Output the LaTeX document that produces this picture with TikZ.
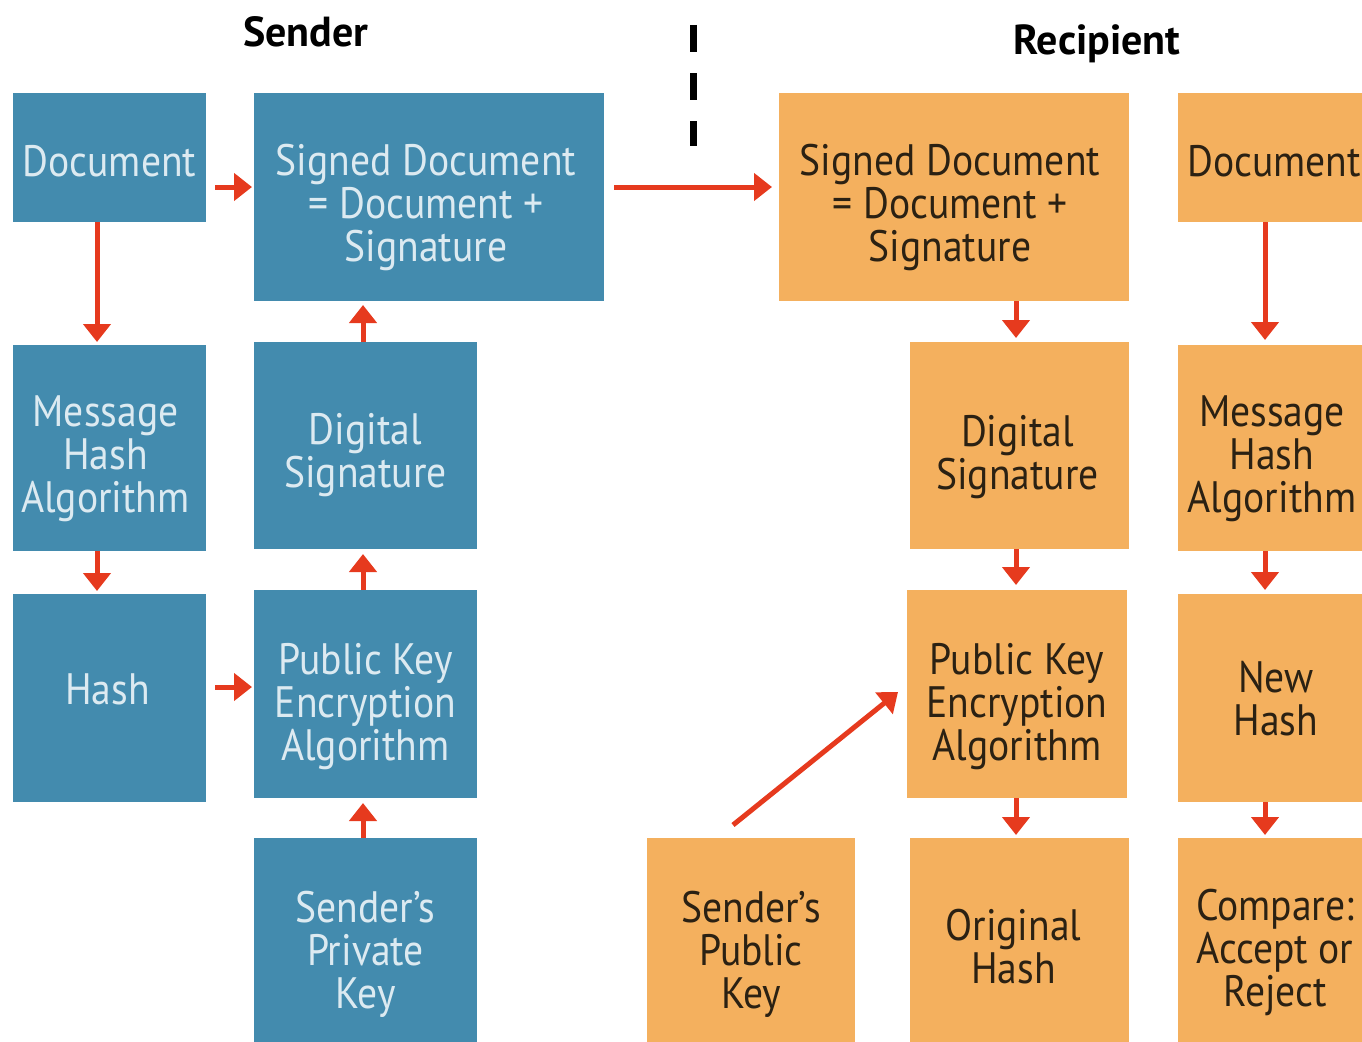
\documentclass[tikz,border=0pt]{standalone}
\usepackage{fontspec}
\setmainfont[FakeStretch=0.9]{PT Sans}
\newfontfamily\titlefont{PT Sans}
\usetikzlibrary{arrows.meta,calc}
\definecolor{boxblue}{HTML}{438BAE}
\definecolor{boxorange}{HTML}{F4B05E}
\definecolor{arrowred}{HTML}{E63A1E}
\definecolor{textblue}{HTML}{DCEAF1}
\definecolor{textorange}{HTML}{2B2113}
\begin{document}
\begin{tikzpicture}[x=1pt,y=-1pt,
  base/.style={inner sep=0pt, outer sep=0pt},
  bluebox/.style={base, fill=boxblue},
  orangebox/.style={base, fill=boxorange},
  txt/.style={inner sep=0pt, align=center, font=\fontsize{44}{43}\selectfont},
  btxt/.style={txt, text=textblue},
  otxt/.style={txt, text=textorange},
  arr/.style={draw=arrowred, line width=5pt, -{Triangle[width=27pt,length=18pt]}},
  title/.style={inner sep=0pt, anchor=base, font=\titlefont\fontsize{42}{42}\selectfont\bfseries}
]
\useasboundingbox (0,0) rectangle (1362,1041);
% titles
\node[title] (tsend) at (306,47) {Sender};
\node[title] (trec) at (1097,55) {Recipient};
% separator
\coordinate (dtop) at (693,25);
\coordinate (dbot) at (693,146);
\draw[line width=7pt, dash pattern=on 27pt off 21pt] (dtop) -- (dbot);
% sender boxes
\node[bluebox, minimum width=193pt, minimum height=129pt] (d1) at (109.5,157.5) {};
\node[bluebox, minimum width=350pt, minimum height=208pt] (sd1) at (429,197) {};
\node[bluebox, minimum width=193pt, minimum height=206pt] (mh1) at (109.5,448) {};
\node[bluebox, minimum width=223pt, minimum height=207pt] (ds1) at (365.5,445.5) {};
\node[bluebox, minimum width=193pt, minimum height=208pt] (h1) at (109.5,698) {};
\node[bluebox, minimum width=223pt, minimum height=208pt] (pk1) at (365.5,694) {};
\node[bluebox, minimum width=223pt, minimum height=222pt] (priv) at (365.5,949) {};
% sender texts
\node[btxt] (d1t) at ($(d1)+(0,4)$) {Document};
\node[btxt] (sd1t) at ($(sd1)+(-3,10)$) {Signed Document\\= Document +\\Signature};
\node[btxt] (mh1t) at ($(mh1)+(-4,11)$) {Message\\Hash\\Algorithm};
\node[btxt] (ds1t) at ($(ds1)+(0,10)$) {Digital\\Signature};
\node[btxt] (h1t) at ($(h1)+(-2,-9)$) {Hash};
\node[btxt] (pk1t) at ($(pk1)+(0,13)$) {Public Key\\Encryption\\Algorithm};
\node[btxt] (privt) at ($(priv)+(0,5)$) {Sender's\\Private\\Key};
% recipient boxes
\node[orangebox, minimum width=350pt, minimum height=208pt] (sd2) at (954,197) {};
\node[orangebox, minimum width=192pt, minimum height=129pt] (d2) at (1274,157.5) {};
\node[orangebox, minimum width=219pt, minimum height=207pt] (ds2) at (1019.5,445.5) {};
\node[orangebox, minimum width=192pt, minimum height=206pt] (mh2) at (1274,448) {};
\node[orangebox, minimum width=220pt, minimum height=208pt] (pk2) at (1017,694) {};
\node[orangebox, minimum width=192pt, minimum height=208pt] (nh) at (1274,698) {};
\node[orangebox, minimum width=208pt, minimum height=222pt] (pub) at (751,949) {};
\node[orangebox, minimum width=219pt, minimum height=222pt] (oh) at (1019.5,949) {};
\node[orangebox, minimum width=192pt, minimum height=222pt] (cmp) at (1274,949) {};
% recipient texts
\node[otxt] (sd2t) at ($(sd2)+(-4,10)$) {Signed Document\\= Document +\\Signature};
\node[otxt] (d2t) at ($(d2)+(0,4)$) {Document};
\node[otxt] (ds2t) at ($(ds2)+(-2,12)$) {Digital\\Signature};
\node[otxt] (mh2t) at ($(mh2)+(-2,11)$) {Message\\Hash\\Algorithm};
\node[otxt] (pk2t) at ($(pk2)+(0,13)$) {Public Key\\Encryption\\Algorithm};
\node[otxt] (nht) at ($(nh)+(2,1)$) {New\\Hash};
\node[otxt] (pubt) at ($(pub)+(0,5)$) {Sender's\\Public\\Key};
\node[otxt] (oht) at ($(oh)+(-6,-2)$) {Original\\Hash};
\node[otxt] (cmpt) at ($(cmp)+(1,3)$) {Compare:\\Accept or\\Reject};
% sender arrows
\draw[arr] ($(d1.east)+(9,29.5)$) -- ($(d1.east -| sd1.west)+(-2,29.5)$);
\draw[arr] ($(d1.south)+(-12.5,0)$) -- ($(d1.south |- mh1.north)+(-12.5,-3)$);
\draw[arr] ($(mh1.south)+(-12.5,0)$) -- ($(mh1.south |- h1.north)+(-12.5,-3)$);
\draw[arr] ($(h1.east)+(9,-11)$) -- ($(h1.east -| pk1.west)+(-2,-11)$);
\draw[arr] ($(pk1.north)+(-2.5,0)$) -- ($(pk1.north |- ds1.south)+(-2.5,5)$);
\draw[arr] ($(ds1.north)+(-2.5,0)$) -- ($(ds1.north |- sd1.south)+(-2.5,4)$);
\draw[arr] ($(priv.north)+(-2.5,0)$) -- ($(priv.north |- pk1.south)+(-2.5,5)$);
% transfer
\draw[arr] ($(sd1.east)+(10,-10)$) -- ($(sd2.west)+(-7,-10)$);
% recipient arrows
\draw[arr] ($(ds2.north |- sd2.south)+(-3.5,0)$) -- ($(ds2.north)+(-3.5,-4)$);
\draw[arr] ($(ds2.south)+(-3.5,0)$) -- ($(ds2.south |- pk2.north)+(-3.5,-5)$);
\draw[arr] ($(pk2.south)+(-1,0)$) -- ($(pk2.south |- oh.north)+(-1,-3)$);
\draw[arr] ($(pub.north)+(-18,-13)$) -- ($(pk2.west)+(-9,-2)$);
\draw[arr] ($(d2.south)+(-9,0)$) -- ($(d2.south |- mh2.north)+(-9,-5)$);
\draw[arr] ($(mh2.south)+(-9,0)$) -- ($(mh2.south |- nh.north)+(-9,-4)$);
\draw[arr] ($(nh.south)+(-9,0)$) -- ($(nh.south |- cmp.north)+(-9,-3)$);
\end{tikzpicture}
\end{document}
